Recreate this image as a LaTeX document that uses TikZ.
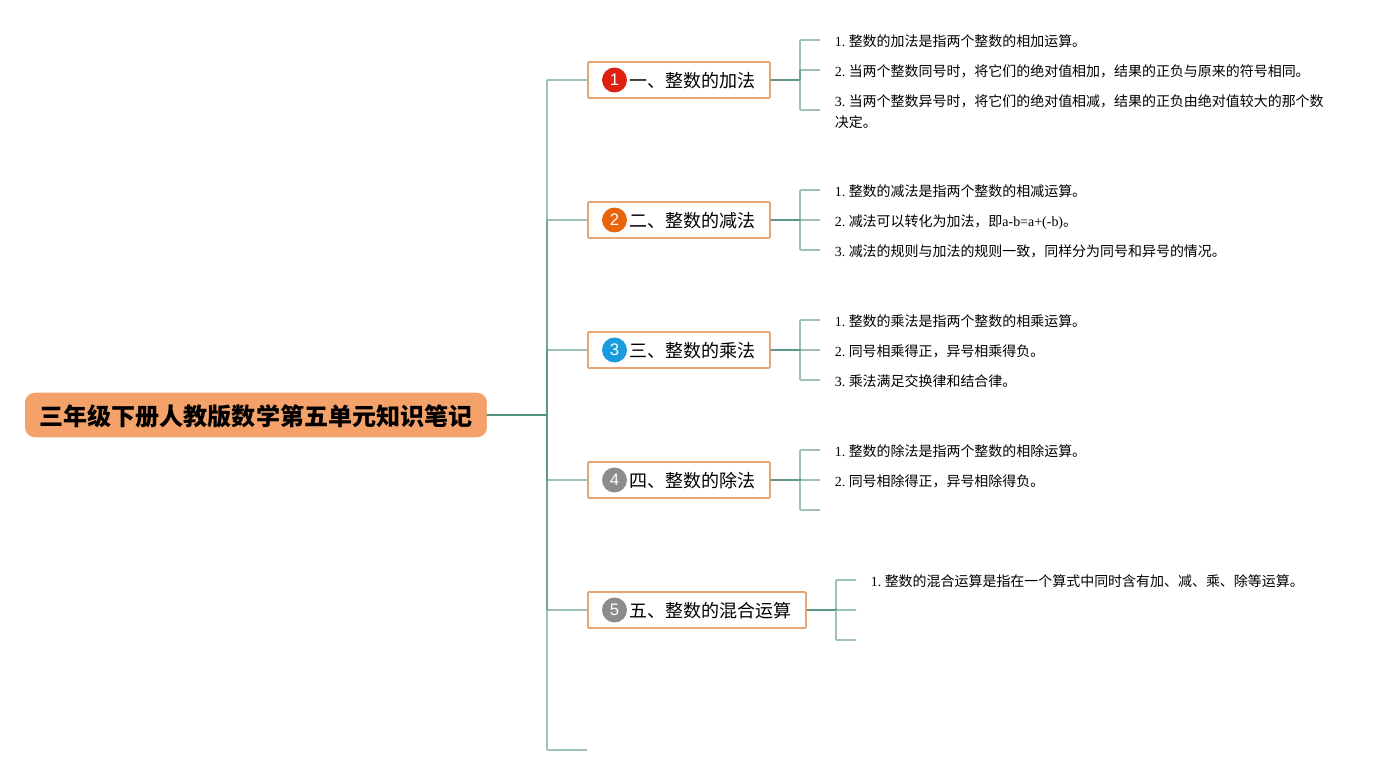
\documentclass[tikz,border=0pt]{standalone}
\usepackage{fontspec}
\setmainfont{Liberation Serif}
\setsansfont{Liberation Sans}
\newfontfamily\cjk{Noto Sans CJK SC}
\definecolor{branchcol}{HTML}{4F8F7F}
\definecolor{rootcol}{HTML}{F4A26A}
\definecolor{topiccol}{HTML}{E5A575}
\definecolor{badgered}{HTML}{E0200F}
\definecolor{badgeorange}{HTML}{E8650D}
\definecolor{badgeblue}{HTML}{1A9BDC}
\definecolor{badgegray}{HTML}{8C8C8C}
\tikzset{
  rootbox/.style={fill=rootcol,draw=rootcol,rounded corners=5.5pt,minimum width=262.5pt,minimum height=25pt,inner sep=0pt,
    text height=13.5pt,text depth=1.4pt,font=\cjk\fontsize{13.7}{16}\bfseries\selectfont},
  topicbox/.style={draw=topiccol,fill=white,line width=1pt,rounded corners=0.6pt,anchor=west,minimum height=20.5pt,
    inner xsep=7.96pt,inner ysep=0pt,text height=10pt,text depth=1.06pt,font=\cjk\fontsize{10.25}{12}\selectfont},
  badge/.style={circle,minimum size=14.2pt,inner sep=0pt,text=white,font=\sffamily\fontsize{9.5}{10}\selectfont},
  leafbase/.style={anchor=west,align=left,inner xsep=8.3pt,inner ysep=0pt,font=\fontsize{7.95}{11.95}\selectfont},
  leaf/.style={leafbase,text height=8.25pt,text depth=1.15pt},
  branch/.style={draw=branchcol,opacity=0.55,line width=0.95pt,rounded corners=0.5pt}
}
\newcommand{\topicgap}{\hspace*{15.94pt}}
\newcommand{\numgap}{\hspace{1.9pt}}
\begin{document}
\begin{tikzpicture}[x=0.02cm,y=-0.02cm]
  \useasboundingbox[fill=white] (0,0) rectangle (1395,775);
  \node[rootbox] (root) at (256,415) {三年级下册人教版数学第五单元知识笔记};
  \coordinate (trunk) at (547,415);

  \node[topicbox] (add) at (587,80) {\topicgap 一、整数的加法};
  \node[topicbox] (sub) at (587,220) {\topicgap 二、整数的减法};
  \node[topicbox] (mul) at (587,350) {\topicgap 三、整数的乘法};
  \node[topicbox] (div) at (587,480) {\topicgap 四、整数的除法};
  \node[topicbox] (mix) at (587,610) {\topicgap 五、整数的混合运算};
  \coordinate (blank) at (587,750);

  \node[badge,fill=badgered] (b1) at (614.5,80) {1};
  \node[badge,fill=badgeorange] (b2) at (614.5,220) {2};
  \node[badge,fill=badgeblue] (b3) at (614.5,350) {3};
  \node[badge,fill=badgegray] (b4) at (614.5,480) {4};
  \node[badge,fill=badgegray] (b5) at (614.5,610) {5};

  \node[leaf] (add1) at (820,40) {1.\numgap{\cjk 整数的加法是指两个整数的相加运算。}};
  \node[leaf] (add2) at (820,70) {2.\numgap{\cjk 当两个整数同号时，将它们的绝对值相加，结果的正负与原来的符号相同。}};
  \node[leafbase] (add3) at (820,112) {3.\numgap{\cjk 当两个整数异号时，将它们的绝对值相减，结果的正负由绝对值较大的那个数}\\{\cjk 决定。}};
  \coordinate (add3c) at (820,110);

  \node[leaf] (sub1) at (820,190) {1.\numgap{\cjk 整数的减法是指两个整数的相减运算。}};
  \node[leaf] (sub2) at (820,220) {2.\numgap{\cjk 减法可以转化为加法，即}a-b=a+(-b){\cjk 。}};
  \node[leaf] (sub3) at (820,250) {3.\numgap{\cjk 减法的规则与加法的规则一致，同样分为同号和异号的情况。}};

  \node[leaf] (mul1) at (820,320) {1.\numgap{\cjk 整数的乘法是指两个整数的相乘运算。}};
  \node[leaf] (mul2) at (820,350) {2.\numgap{\cjk 同号相乘得正，异号相乘得负。}};
  \node[leaf] (mul3) at (820,380) {3.\numgap{\cjk 乘法满足交换律和结合律。}};

  \node[leaf] (div1) at (820,450) {1.\numgap{\cjk 整数的除法是指两个整数的相除运算。}};
  \node[leaf] (div2) at (820,480) {2.\numgap{\cjk 同号相除得正，异号相除得负。}};
  \coordinate (div3) at (820,510);

  \node[leaf] (mix1) at (856,580) {1.\numgap{\cjk 整数的混合运算是指在一个算式中同时含有加、减、乘、除等运算。}};
  \coordinate (mix2) at (856,610);
  \coordinate (mix3) at (856,640);

  % branches overlap, so they darken towards the root
  \foreach \t in {add,sub,mul,div,mix}
    \draw[branch] (root.east) -- (trunk) |- (\t.west);
  \draw[branch] (root.east) -- (trunk) |- (blank);

  \foreach \t/\l in {add/add1,add/add2,sub/sub1,sub/sub2,sub/sub3,mul/mul1,mul/mul2,mul/mul3,div/div1,div/div2}
    \draw[branch] (\t.east) -- (800,0 |- \t.east) |- (\l.west);
  \draw[branch] (add.east) -- (800,0 |- add.east) |- (add3c);
  \draw[branch] (div.east) -- (800,0 |- div.east) |- (div3);
  \foreach \l in {mix1,mix2,mix3}
    \draw[branch] (mix.east) -- (836,0 |- mix.east) |- (\l);
\end{tikzpicture}
\end{document}
